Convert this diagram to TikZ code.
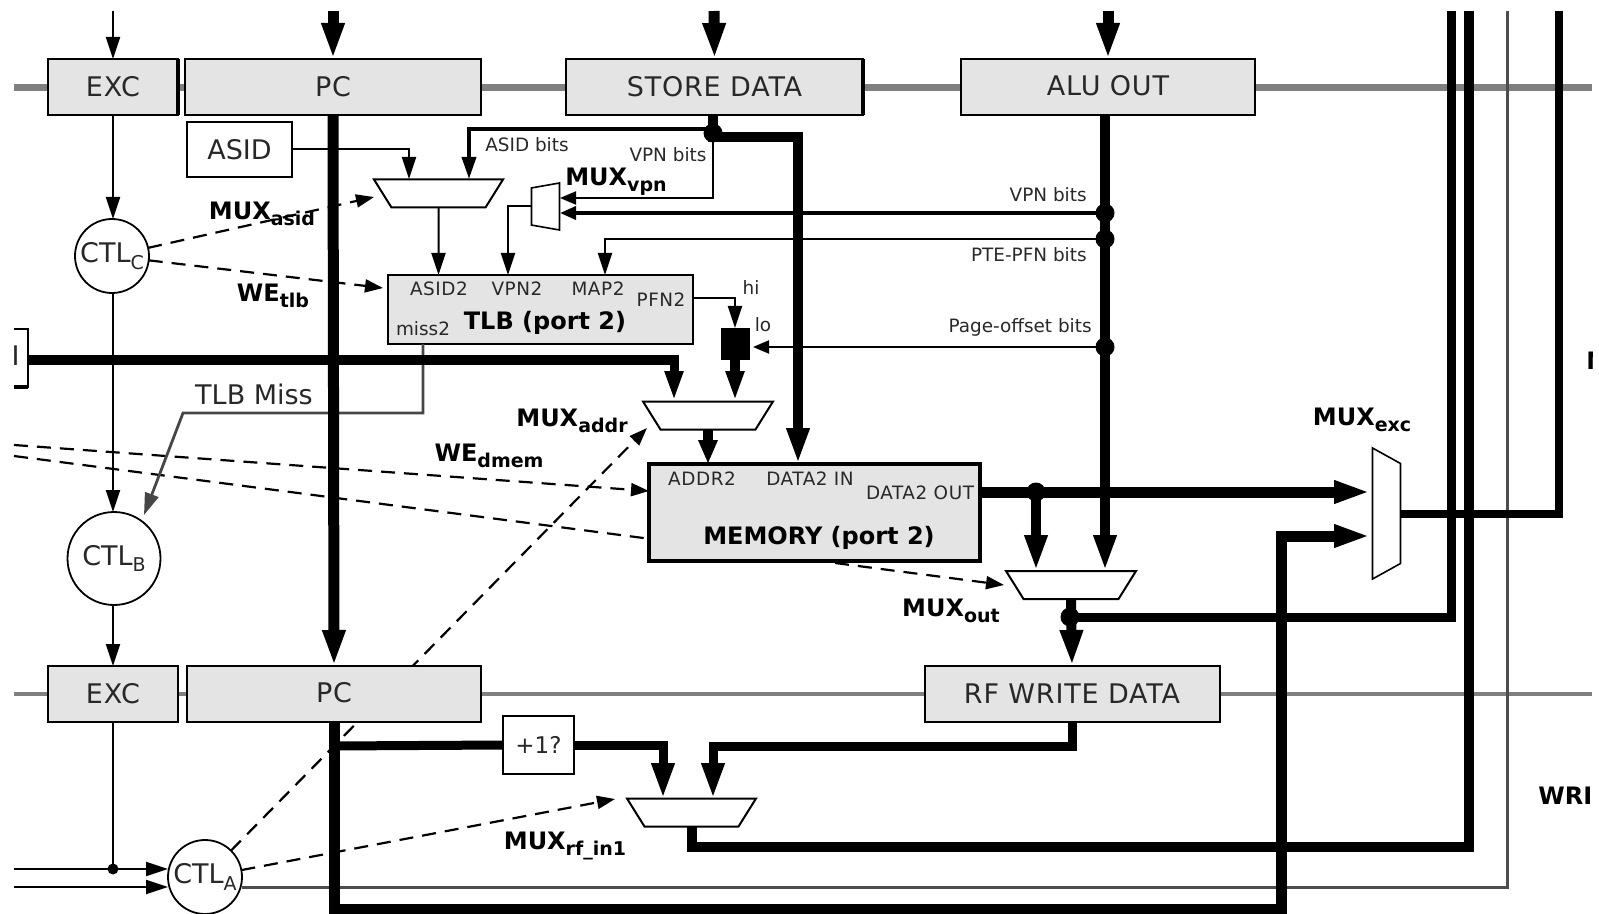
\documentclass[tikz,border=0pt]{standalone}
\usepackage{fontspec}
\setmainfont{DejaVu Sans}
\usepackage{tikz}
\usetikzlibrary{arrows.meta,backgrounds,positioning,shapes.geometric}
\definecolor{regfill}{RGB}{228,228,228}
\definecolor{busgray}{RGB}{128,128,128}
\definecolor{inkgray}{RGB}{40,40,40}
\definecolor{missgray}{RGB}{70,70,70}
\newcommand{\lowtxt}[1]{\raisebox{-.45ex}{\fontsize{9.5}{10}\selectfont #1}}
\newcommand{\muxbody}{\phantom{\rule{1pt}{14pt}}}
\begin{document}
\begin{tikzpicture}[x=.5pt,y=-.5pt,
    reg/.style={draw=black,line width=1pt,fill=regfill,text=inkgray,minimum width=65pt,minimum height=28pt,inner sep=0pt,outer sep=0pt,font=\fontsize{13.5}{15}\selectfont\addfontfeature{LetterSpace=3}},
    box/.style={draw=black,line width=1pt,fill=white,text=inkgray,inner sep=0pt,outer sep=0pt},
    ctl/.style={circle,draw=black,line width=.9pt,fill=white,text=inkgray,inner sep=0pt,outer sep=0pt,minimum size=37pt,font=\fontsize{13.5}{15}\selectfont},
    mux/.style={trapezium,trapezium stretches body=true,shape border rotate=180,draw=black,line width=1pt,fill=white,inner sep=0pt,outer sep=0pt},
    dot/.style={circle,fill=black,inner sep=0pt,outer sep=0pt,minimum size=9.5pt},
    tiny/.style={text=inkgray,inner sep=0pt,font=\fontsize{9.2}{11}\selectfont},
    tinyc/.style={text=inkgray,inner sep=0pt,font=\fontsize{9.2}{11}\selectfont\addfontfeature{LetterSpace=3}},
    big/.style={inner sep=0pt,font=\fontsize{12}{14}\selectfont\bfseries},
    wire/.style={-{Triangle[length=11pt,width=7pt]},line width=1pt},
    midw/.style={-{Triangle[length=8pt,width=6.5pt]},line width=1.8pt},
    bus/.style={-{Triangle[length=18pt,width=10.5pt]},line width=5.5pt},
    busM/.style={-{Triangle[length=15pt,width=8.5pt]},line width=5pt},
    busS/.style={-{Triangle[length=12pt,width=9pt]},line width=5pt},
    ctrl/.style={-{Triangle[length=9pt,width=6.5pt]},line width=1.1pt,dash pattern=on 7pt off 4.5pt}]
    \useasboundingbox (0,0) rectangle (1599,914);
    \clip (14,11) rectangle (1592,914);
    % free ends
    \coordinate (busTL) at (14,88); \coordinate (busTR) at (1592,88);
    \coordinate (busBL) at (14,694); \coordinate (busBR) at (1592,694);
    \coordinate (excIn) at (113,11); \coordinate (pcIn) at (333,11);
    \coordinate (storeIn) at (714,11); \coordinate (aluIn) at (1108,11);
    \coordinate (wbTop) at (1451.5,11); \coordinate (rfTop) at (1469,11);
    \coordinate (ctlTop) at (1507,11); \coordinate (excTop) at (1559,11);
    \coordinate (ctlInA) at (14,869); \coordinate (ctlInB) at (14,887);
    \coordinate (dmemA) at (14,445); \coordinate (dmemB) at (14,456);
    % pipeline registers
    \node[reg] (excT) at (113,87) {EXC};
    \node[reg,minimum width=148pt,right=3.5pt of excT] (pcT) {PC};
    \node[reg,minimum width=148.5pt,right=42.5pt of pcT] (storeT) {STORE DATA};
    \node[reg,minimum width=147pt,right=49pt of storeT] (aluT) {\raisebox{1.5pt}{ALU OUT}};
    \node[reg,below=275.5pt of excT] (excB) {EXC};
    \node[reg,minimum width=147pt,right=4.5pt of excB] (pcB) {\raisebox{1.5pt}{PC}};
    \node[reg,minimum width=147.5pt,right=221.75pt of pcB] (rfB) {RF WRITE DATA};
    % other blocks
    \node[box,minimum width=52.5pt,minimum height=27.5pt,font=\fontsize{13.5}{15}\selectfont] (asid) at (239.5,149.5) {ASID};
    \node[reg,minimum width=152.5pt,minimum height=34.5pt] (tlb) at (540.5,309.5) {};
    \node[reg,line width=1.6pt,minimum width=165.5pt,minimum height=48.5pt] (mem) at (814.5,512.5) {};
    \node[box,minimum width=35.5pt,minimum height=29pt,font=\fontsize{11.5}{13}\selectfont] (incr) at (538.5,745) {+1?};
    \node[box,minimum width=50pt,minimum height=29pt] (cutBox) at (-22,358) {};
    \node[draw=black,fill=black,inner sep=0pt,outer sep=0pt,minimum width=14pt,minimum height=15.5pt] (latch) at (735,343.5) {};
    \node[ctl] (ctlC) at (112,256) {CTL\lowtxt{C}};
    \node[ctl,minimum size=46.5pt] (ctlB) at (114,558.5) {CTL\lowtxt{B}};
    \node[ctl] (ctlA) at (205,877) {CTL\lowtxt{A}};
    % muxes
    \node[mux,minimum width=64.5pt,trapezium angle=58] (muxAsid) at (438.5,193.5) {\muxbody};
    \node[mux,minimum width=23.5pt,trapezium angle=80,line width=.8pt,rotate=-90] (muxVpn) at (545.5,206.5) {\muxbody};
    \node[mux,minimum width=65pt,trapezium angle=58] (muxAddr) at (708,415.5) {\muxbody};
    \node[mux,minimum width=65pt,trapezium angle=58] (muxOut) at (1071,585) {\muxbody};
    \node[mux,minimum width=64.5pt,trapezium angle=58] (muxRf) at (691.5,812.5) {\muxbody};
    \node[mux,minimum width=65.5pt,trapezium angle=61,line width=.8pt,rotate=90] (muxExc) at (1386.5,513.5) {\muxbody};
    % junctions
    \node[dot] (jStore) at (713,133) {};
    \node[dot] (jVpn) at (1105,213) {};
    \node[dot] (jPfn) at (1105,239) {};
    \node[dot] (jOff) at (1105,347) {};
    \node[dot] (jData) at (1036,492) {};
    \node[dot] (jWb) at (1070,617) {};
    \node[dot,minimum size=5.5pt] (jExc) at (113,869) {};
    \coordinate (asidA) at (409,179); \coordinate (asidB) at (469,179);
    \coordinate (vpnA) at (560,198); \coordinate (vpnB) at (560,213);
    \coordinate (tlbA) at (438.5,275); \coordinate (tlbB) at (508,275); \coordinate (tlbC) at (605,275);
    \coordinate (addrA) at (674,401); \coordinate (addrB) at (735,401);
    \coordinate (inExcA) at (1370,492); \coordinate (inExcB) at (1370,536);
    \coordinate (rfA) at (663,799); \coordinate (rfC) at (713,799);
    \coordinate (aluOutT) at (1105,115); \coordinate (pfnOut) at (693,298);
    \coordinate (asidSel) at (374,197); \coordinate (missTip) at (144,515);
    \coordinate (cutOut) at (28,360); \coordinate (offTip) at (753,347);
    \begin{pgfonlayer}{background}
    \draw[busgray,line width=3.5pt] (busTL)--(busTR);
    \draw[busgray,line width=2pt] (busBL)--(busBR);
    \draw[ctrl] (ctlC)--(asidSel);
    \draw[ctrl] (ctlC)--(383,288);
    \draw[ctrl] (dmemA)--(649,491);
    \draw[ctrl] (dmemB)--(1004,585);
    \draw[ctrl] (ctlA)--(647,428);
    \draw[ctrl] (ctlA)--(615,799);
    \end{pgfonlayer}
    % thin wires
    \draw[wire] (excIn)--(excT.north);
    \draw[wire] (excT.south)--(excT.south |- ctlC.north);
    \draw[wire] (excT.south |- ctlC.south)--(excT.south |- ctlB.north);
    \draw[wire] (ctlB.south -| excB.north)--(excB.north);
    \draw[line width=1pt] (excB.south)--(jExc);
    \draw[wire] (ctlInA)--(ctlA.west |- ctlInA);
    \draw[wire] (ctlInB)--(ctlA.west |- ctlInB);
    \draw[busgray!60!black,line width=1.5pt] (ctlA.east |- ctlInB)-|(ctlTop);
    \draw[wire] (asid.east)-|(asidA);
    \draw[wire] (muxAsid.south)--(tlbA);
    \draw[wire] (muxVpn.south)-|(tlbB);
    \draw[wire] (jPfn)-|(tlbC);
    \draw[wire] (pfnOut)-|(latch.north);
    \draw[wire,-{Triangle[length=8pt,width=6.5pt]}] (jOff)--(offTip);
    \draw[wire,missgray,line width=1.4pt] (tlb.south -| 423,0) |- (183,413)--(missTip);
    % thick wires
    \draw[midw,-{Triangle[length=11pt,width=7pt]}] ([yshift=2pt]jStore.center)-|(asidB);
    \draw[wire,-{Triangle[length=8pt,width=6.5pt]}] (jStore)|-(vpnA);
    \draw[midw] (jVpn)--(vpnB);
    \draw[bus] (pcIn)--(pcT.north);
    \draw[bus] (storeIn)--(storeT.north);
    \draw[bus] (aluIn)--(aluT.north);
    \draw[bus] (pcT.south)--(pcB.north);
    \draw[line width=5pt] (storeT.south -| jStore)--(jStore.center);
    \draw[bus,line width=5pt] (jStore.center)|-(798,137)-|(mem.north -| 798,0);
    \draw[bus,line width=5pt] (aluOutT)--(aluOutT |- muxOut.north);
    \draw[busM,line width=4.5pt] (cutOut)-|(addrA);
    \draw[busM] (latch.south)--(addrB);
    \draw[busS] (muxAddr.south)--(muxAddr.south |- mem.north);
    \draw[bus] (jData -| mem.east)--(inExcA);
    \draw[bus,line width=5pt] (jData.center)--(jData |- muxOut.north);
    \draw[bus,line width=5pt] (muxOut.south)--(rfB.north);
    \draw[line width=4.5pt] (jWb.center)-|(wbTop);
    \draw[line width=4pt] (muxExc.south)-|(excTop);
    \draw[bus,line width=5.5pt] (pcB.south)|-(1281,909)|-(inExcB);
    \draw[line width=4.5pt] (333,746)--(incr.west);
    \draw[bus,line width=4.5pt] (incr.east)-|(rfA);
    \draw[bus,line width=4.5pt] (rfB.south)|-(713,746)--(rfC);
    \draw[line width=5pt] (muxRf.south)|-(rfTop |- 0,847)--(rfTop);
    % heavier edges
    \draw[line width=1.8pt] (excT.north east)--(excT.south east);
    \draw[line width=1.8pt] (storeT.north east)--(storeT.south east);
    \draw[line width=2.4pt] (cutBox.south west)--(cutBox.south east);
    % labels
    \node[tiny] (lAsidBits) at (527,145) {ASID bits};
    \node[tiny] (lVpnBits) at (668,155) {VPN bits};
    \node[tiny,anchor=east] (lVpnBits2) at (1087,195) {VPN bits};
    \node[tiny,anchor=east] (lPteBits) at (1087,255) {PTE-PFN bits};
    \node[tiny,anchor=east] (lOffBits) at (1092,327) {Page-offset bits};
    \node[tinyc] (lAsid2) at (439,289) {ASID2};
    \node[tinyc] (lVpn2) at (517,289) {VPN2};
    \node[tinyc] (lMap2) at (598,289) {MAP2};
    \node[tinyc] (lPfn2) at (661,300) {PFN2};
    \node[tiny] (lMiss2) at (423,329) {miss2};
    \node[tiny] (lHi) at (751,288) {hi};
    \node[tiny] (lLo) at (763,325) {lo};
    \node[big] (lTlb) at (545,323) {TLB (port 2)};
    \node[tinyc] (lAddr2) at (702,479) {ADDR2};
    \node[tinyc] (lData2i) at (810,479) {DATA2 IN};
    \node[tinyc] (lData2o) at (920,493) {DATA2 OUT};
    \node[big] (lMem) at (819,538) {MEMORY (port 2)};
    \node[text=inkgray,inner sep=0pt,font=\fontsize{13.5}{15}\selectfont] (lMiss) at (254,394) {TLB Miss};
    \node[big] (lMuxAsid) at (262,214) {MUX\lowtxt{asid}};
    \node[big] (lMuxVpn) at (616,182) {MUX\lowtxt{vpn}};
    \node[big] (lWeTlb) at (273,296) {WE\lowtxt{tlb}};
    \node[big] (lMuxAddr) at (572,421) {MUX\lowtxt{addr}};
    \node[big] (lMuxExc) at (1362,420) {MUX\lowtxt{exc}};
    \node[big] (lWeDmem) at (489,456) {WE\lowtxt{dmem}};
    \node[big] (lMuxOut) at (951,611) {MUX\lowtxt{out}};
    \node[big] (lMuxRf) at (565,846) {MUX\lowtxt{rf\_in1}};
    \node[big,anchor=west] (lWrite) at (1538,796) {WRI};
    \node[big,anchor=west] (lMem2) at (1586,361) {N};
    \node[text=inkgray,inner sep=0pt,font=\fontsize{13.5}{15}\selectfont] (lCut) at (15.5,356) {I};
\end{tikzpicture}
\end{document}
